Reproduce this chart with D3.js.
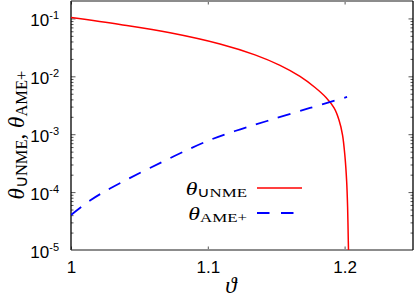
<!DOCTYPE html>
<html>
<head>
<meta charset="utf-8">
<script src="https://cdn.jsdelivr.net/npm/d3@7"></script>
<style>
  body { margin: 0; background: #fff; }
  svg { display: block; }
</style>
</head>
<body>
<div id="main"></div>
<script>
/* data */
const xTicks = [1, 1.1, 1.2];
const yDecades = [-5, -4, -3, -2, -1];

// theta_UNME (red, solid)
const unmeVt = [1.0000, 1.0358, 1.0724, 1.1089, 1.1345, 1.1528, 1.1674, 1.1784, 1.1864, 1.1923, 1.1959, 1.1985, 1.2003, 1.2015, 1.2022, 1.2027, 1.2030];
const unmeTh = [0.1038, 0.0786, 0.0566, 0.0362, 0.02346, 0.01545, 0.00997, 0.00641, 0.00431, 0.00284, 0.00176, 9.69e-4, 4.04e-4, 1.54e-4, 5.49e-5, 1.44e-5, 6.7e-6];

// theta_AME+ (blue, dashed)
const ameVt = [1.0000, 1.0139, 1.0285, 1.0577, 1.0980, 1.1199, 1.1433, 1.1747, 1.2018];
const ameTh = [4.02e-5, 7.16e-5, 1.153e-4, 2.61e-4, 7.34e-4, 1.137e-3, 1.692e-3, 2.84e-3, 4.40e-3];

/* layout */
const svgWidth = 415;
const svgHeight = 299;
const margin = { t: 1, r: 2, b: 49, l: 71 };
const plotW = svgWidth - margin.l - margin.r;
const plotH = svgHeight - margin.t - margin.b;

const svg = d3.select('#main').append('svg')
  .attr('width', svgWidth)
  .attr('height', svgHeight);

const x = d3.scaleLinear().domain([1, 1.25]).range([0, plotW]);
const y = d3.scaleLog().domain([1e-5, 0.2]).range([plotH, 0]);

const plot = svg.append('g')
  .attr('transform', `translate(${margin.l},${margin.t})`);

plot.append('clipPath').attr('id', 'clip')
  .append('rect').attr('width', plotW).attr('height', plotH);

// tick values
const majorY = yDecades.map(e => Math.pow(10, e));
const minorY = [];
yDecades.forEach(e => {
  for (let m = 2; m <= 9; m++) {
    const v = m * Math.pow(10, e);
    if (v <= 0.2) minorY.push(v);
  }
});

// minor ticks left / right
plot.append('g').attr('class', 'axis')
  .call(d3.axisLeft(y).tickValues(minorY).tickSizeInner(-2.5).tickSizeOuter(0).tickFormat(''));
plot.append('g').attr('class', 'axis')
  .attr('transform', `translate(${plotW},0)`)
  .call(d3.axisRight(y).tickValues(minorY).tickSizeInner(-2.5).tickSizeOuter(0).tickFormat(''));

// major ticks right
plot.append('g').attr('class', 'axis')
  .attr('transform', `translate(${plotW},0)`)
  .call(d3.axisRight(y).tickValues(majorY).tickSizeInner(-4.5).tickSizeOuter(0).tickFormat(''));

// major ticks left, with 10^n labels
const yAxisG = plot.append('g').attr('class', 'axis y')
  .call(d3.axisLeft(y).tickValues(majorY).tickSizeInner(-4.5).tickSizeOuter(0).tickPadding(12));

yAxisG.selectAll('.tick text').each(function(d) {
  const t = d3.select(this);
  t.text('').attr('dy', 7.5);
  t.append('tspan').text('10');
  t.append('tspan').attr('class', 'sup').attr('dy', -7).text(Math.round(Math.log10(d)));
});

// x axes
plot.append('g').attr('class', 'axis')
  .call(d3.axisTop(x).tickValues(xTicks).tickSizeInner(-3.5).tickSizeOuter(0).tickFormat(''));
plot.append('g').attr('class', 'axis x')
  .attr('transform', `translate(0,${plotH})`)
  .call(d3.axisBottom(x).tickValues(xTicks).tickSizeInner(-3.5).tickSizeOuter(0).tickPadding(11)
    .tickFormat(d => d3.format('')(d)));

svg.selectAll('.axis .domain').remove();
svg.selectAll('.axis .tick line').attr('stroke', '#555').attr('stroke-width', 1);
svg.selectAll('.axis text')
  .attr('font-family', 'Liberation Sans, Arial, sans-serif')
  .attr('font-size', 17)
  .attr('fill', '#000');
svg.selectAll('.axis text tspan.sup').attr('font-size', 11);

// frame
plot.append('line').attr('x1', 0).attr('x2', plotW).attr('y1', 0).attr('y2', 0)
  .attr('stroke', '#8c8c8c').attr('stroke-width', 2);
plot.append('line').attr('x1', 0).attr('x2', plotW).attr('y1', plotH).attr('y2', plotH)
  .attr('stroke', '#8c8c8c').attr('stroke-width', 2);
plot.append('line').attr('x1', 0).attr('x2', 0).attr('y1', 0).attr('y2', plotH)
  .attr('stroke', '#000').attr('stroke-width', 1.3);
plot.append('line').attr('x1', plotW).attr('x2', plotW).attr('y1', 0).attr('y2', plotH)
  .attr('stroke', '#000').attr('stroke-width', 1.3);

// curves
const line = d3.line()
  .x(d => x(d[0]))
  .y(d => y(d[1]))
  .curve(d3.curveCatmullRom.alpha(0.5));

plot.append('path')
  .datum(d3.zip(unmeVt, unmeTh))
  .attr('clip-path', 'url(#clip)')
  .attr('fill', 'none')
  .attr('stroke', '#ff0000')
  .attr('stroke-width', 1.5)
  .attr('d', line);

plot.append('path')
  .datum(d3.zip(ameVt, ameTh))
  .attr('clip-path', 'url(#clip)')
  .attr('fill', 'none')
  .attr('stroke', '#0000ff')
  .attr('stroke-width', 1.8)
  .attr('stroke-dasharray', '13,10')
  .attr('d', line);

// legend
const serif = 'Liberation Serif, Times New Roman, serif';
function thetaLabel(g, sub, xr, yb) {
  const t = g.append('text')
    .attr('transform', `translate(${xr},${yb}) scale(1.25,1)`)
    .attr('text-anchor', 'end')
    .attr('font-family', serif);
  t.append('tspan').attr('font-style', 'italic').attr('font-size', 19).text('θ');
  t.append('tspan').attr('font-size', 13.5).attr('dy', 2).text(sub);
}
const legend = svg.append('g');
thetaLabel(legend, '∪NME', 247, 195);
thetaLabel(legend, 'AME+', 247, 220);
legend.append('line').attr('x1', 257).attr('x2', 302).attr('y1', 188).attr('y2', 188)
  .attr('stroke', '#ff0000').attr('stroke-width', 1.5);
legend.append('line').attr('x1', 257).attr('x2', 302).attr('y1', 213).attr('y2', 213)
  .attr('stroke', '#0000ff').attr('stroke-width', 1.8).attr('stroke-dasharray', '12.5,11.5');

// axis titles
const yTitle = svg.append('text')
  .attr('transform', 'translate(24,135) rotate(-90)')
  .attr('text-anchor', 'middle')
  .attr('font-family', serif);
yTitle.append('tspan').attr('font-style', 'italic').attr('font-size', 23).text('θ');
yTitle.append('tspan').attr('font-size', 16.5).attr('dy', 3).text('∪NME');
yTitle.append('tspan').attr('font-size', 23).attr('dy', -3).text(', ');
yTitle.append('tspan').attr('font-style', 'italic').attr('font-size', 23).text('θ');
yTitle.append('tspan').attr('font-size', 16.5).attr('dy', 3).text('AME+');

svg.append('text')
  .attr('x', 231).attr('y', 293)
  .attr('text-anchor', 'middle')
  .attr('font-family', serif)
  .attr('font-style', 'italic')
  .attr('font-size', 23)
  .text('ϑ');
</script>
</body>
</html>
